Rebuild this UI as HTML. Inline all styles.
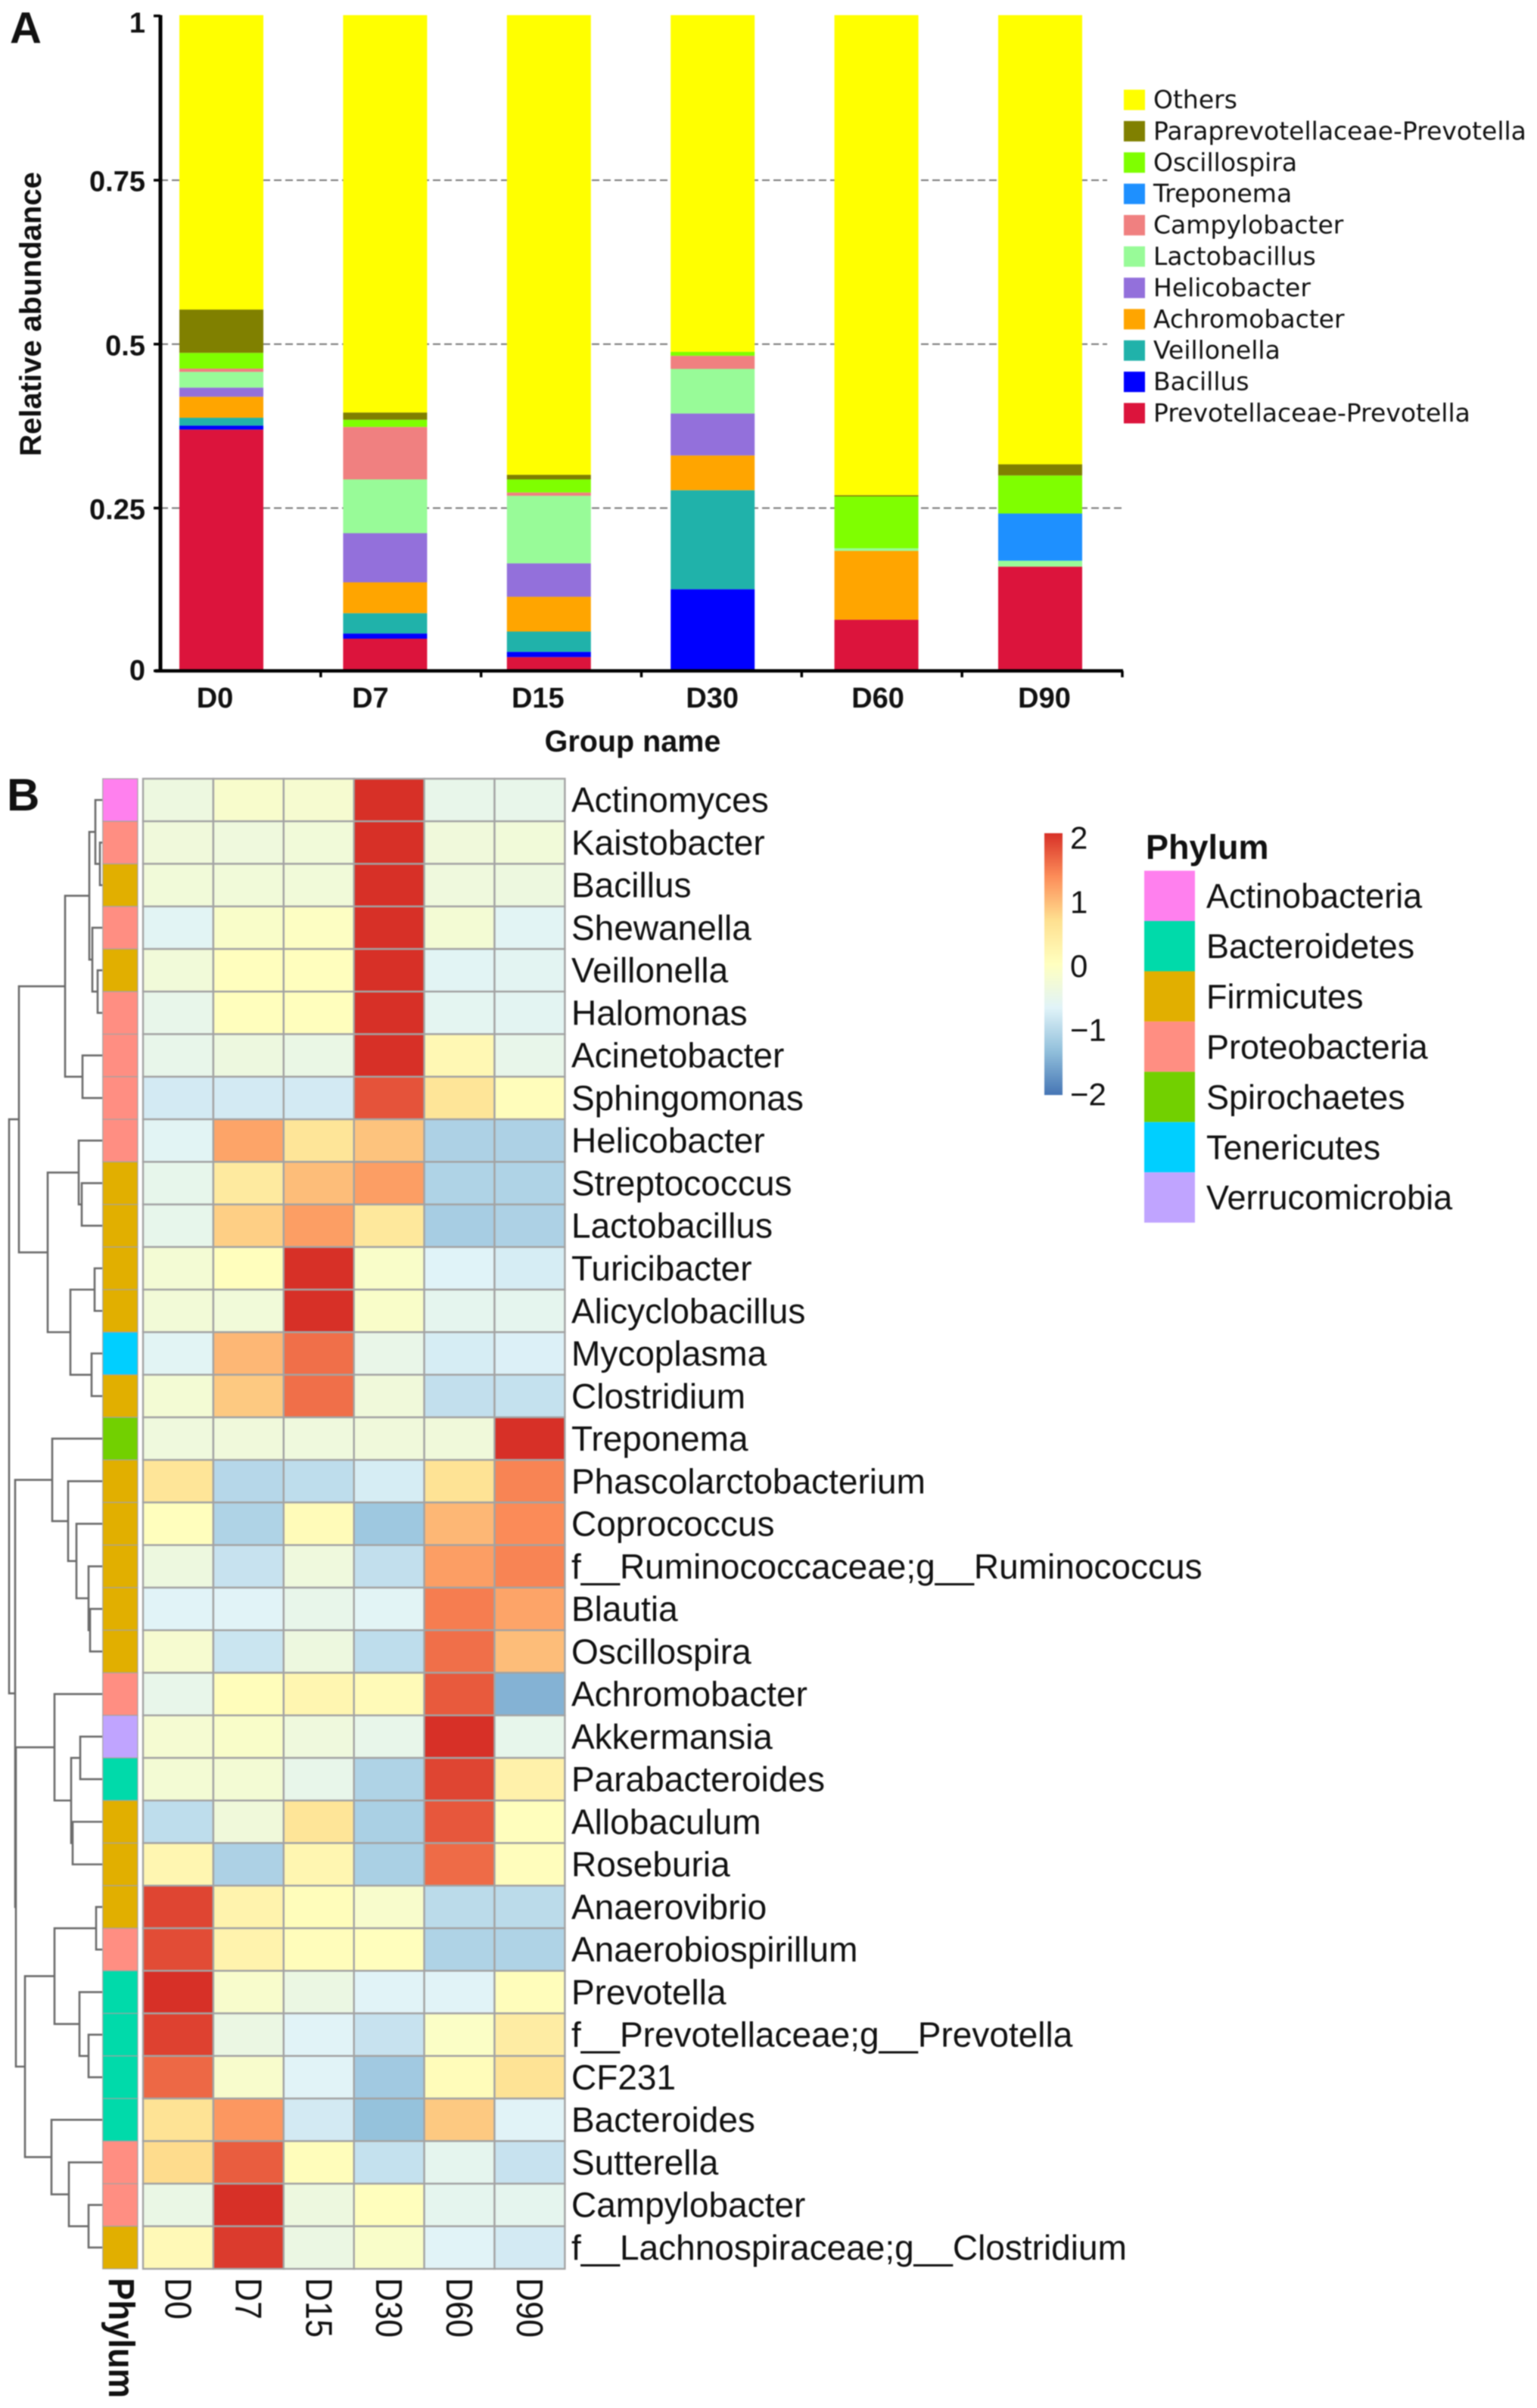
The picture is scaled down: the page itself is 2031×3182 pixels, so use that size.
<!DOCTYPE html>
<html lang="en">
<head>
<meta charset="utf-8">
<title>Relative abundance bar chart and phylum heatmap</title>
<style>
html,body{margin:0;padding:0;background:#fff}
svg{display:block;filter:blur(0.7px)}
text{font-family:"Liberation Sans",Arial,sans-serif;fill:#111}
.bold{font-weight:bold}
.dv{font-family:"DejaVu Sans",sans-serif;font-size:33px}
</style>
</head>
<body>
<svg id="fig" xmlns="http://www.w3.org/2000/svg" width="2031" height="3182" viewBox="0 0 2031 3182">
<defs>
<linearGradient id="ramp" x1="0" y1="0" x2="0" y2="1"></linearGradient>
</defs>
<rect width="2031" height="3182" fill="#fff"/>
<text class="bold" x="13" y="57" font-size="58">A</text>
<text class="bold" x="9" y="1071" font-size="60">B</text>
<g id="barGrid"></g>
<g id="bars"></g>
<g id="barAxes"></g>
<text class="bold" transform="translate(54,415) rotate(-90)" text-anchor="middle" font-size="40">Relative abundance</text>
<text class="bold" x="836" y="993" text-anchor="middle" font-size="39.5">Group name</text>
<g id="barLegend"></g>
<g id="dendro" fill="none" stroke="#6b6b6b" stroke-width="2.6"></g>
<g id="annot"></g>
<g id="heat"></g>
<g id="rowLabels"></g>
<g id="colLabels"></g>
<text class="bold" transform="translate(144,3010) rotate(90) scale(1,1.1)" font-size="44">Phylum</text>
<rect x="1380" y="1101" width="24" height="346" fill="url(#ramp)"/>
<g id="cbLabels"></g>
<text class="bold" x="1514" y="1135" font-size="45">Phylum</text>
<g id="phyLegend"></g>
</svg>
<script>
// ---------- Panel A data ----------
const groups = ["D0","D7","D15","D30","D60","D90"];
const yTicks = [0,0.25,0.5,0.75,1];
const gridTicks = [0.25,0.5,0.75];
const genusNames = ["Prevotellaceae-Prevotella","Bacillus","Veillonella","Achromobacter","Helicobacter","Lactobacillus","Campylobacter","Treponema","Oscillospira","Paraprevotellaceae-Prevotella","Others"];
const genusColors = ["#DC143C","#0000FF","#20B2AA","#FFA500","#9370DB","#98FB98","#F08080","#1E90FF","#7FFF00","#808000","#FFFF00"];
const prevotellaceaePrevotella = [0.368,0.049,0.021,0,0.078,0.159];
const bacillus = [0.006,0.008,0.008,0.1245,0,0];
const veillonella = [0.012,0.031,0.031,0.151,0,0];
const achromobacter = [0.032,0.047,0.053,0.053,0.105,0];
const helicobacter = [0.014,0.075,0.051,0.064,0,0];
const lactobacillus = [0.024,0.082,0.103,0.068,0.004,0.009];
const campylobacter = [0.005,0.080,0.005,0.020,0,0];
const treponema = [0,0,0,0,0,0.072];
const oscillospira = [0.024,0.011,0.020,0.006,0.079,0.058];
const paraprevotellaceaePrevotella = [0.066,0.011,0.007,0,0.002,0.017];
const others = [0.449,0.606,0.701,0.5135,0.732,0.685];
const genusSeries = [prevotellaceaePrevotella,bacillus,veillonella,achromobacter,helicobacter,lactobacillus,campylobacter,treponema,oscillospira,paraprevotellaceaePrevotella,others];

// ---------- Panel B data ----------
const columns = ["D0","D7","D15","D30","D60","D90"];
const taxa = ["Actinomyces","Kaistobacter","Bacillus","Shewanella","Veillonella","Halomonas","Acinetobacter","Sphingomonas","Helicobacter","Streptococcus","Lactobacillus","Turicibacter","Alicyclobacillus","Mycoplasma","Clostridium","Treponema","Phascolarctobacterium","Coprococcus","f__Ruminococcaceae;g__Ruminococcus","Blautia","Oscillospira","Achromobacter","Akkermansia","Parabacteroides","Allobaculum","Roseburia","Anaerovibrio","Anaerobiospirillum","Prevotella","f__Prevotellaceae;g__Prevotella","CF231","Bacteroides","Sutterella","Campylobacter","f__Lachnospiraceae;g__Clostridium"];
const taxaPhylum = ["Actinobacteria","Proteobacteria","Firmicutes","Proteobacteria","Firmicutes","Proteobacteria","Proteobacteria","Proteobacteria","Proteobacteria","Firmicutes","Firmicutes","Firmicutes","Firmicutes","Tenericutes","Firmicutes","Spirochaetes","Firmicutes","Firmicutes","Firmicutes","Firmicutes","Firmicutes","Proteobacteria","Verrucomicrobia","Bacteroidetes","Firmicutes","Firmicutes","Firmicutes","Proteobacteria","Bacteroidetes","Bacteroidetes","Bacteroidetes","Bacteroidetes","Proteobacteria","Proteobacteria","Firmicutes"];
const heatValues = [
[-0.39,-0.15,-0.2,2,-0.5,-0.5],
[-0.33,-0.35,-0.3,2,-0.33,-0.3],
[-0.3,-0.3,-0.3,2,-0.35,-0.38],
[-0.62,-0.12,-0.05,2,-0.25,-0.62],
[-0.3,0.02,0.02,2,-0.62,-0.6],
[-0.5,0.03,0.03,2,-0.58,-0.6],
[-0.5,-0.38,-0.45,2,0.15,-0.5],
[-0.78,-0.78,-0.78,1.75,0.55,0.05],
[-0.62,1.15,0.55,0.9,-1.1,-1.1],
[-0.52,0.45,0.95,1.2,-1.08,-1.08],
[-0.52,0.8,1.2,0.5,-1.15,-1.1],
[-0.25,0.03,2,-0.12,-0.67,-0.75],
[-0.28,-0.3,2,-0.12,-0.55,-0.55],
[-0.62,1,1.55,-0.48,-0.75,-0.7],
[-0.25,0.85,1.55,-0.32,-0.92,-0.9],
[-0.35,-0.33,-0.35,-0.33,-0.32,2],
[0.55,-1.02,-0.95,-0.75,0.6,1.4],
[0.03,-1.08,0.08,-1.22,1,1.35],
[-0.38,-0.88,-0.35,-0.92,1.2,1.4],
[-0.65,-0.65,-0.5,-0.63,1.45,1.15],
[-0.2,-0.85,-0.38,-0.95,1.55,0.95],
[-0.5,0.05,0.2,0.1,1.7,-1.45],
[-0.22,-0.12,-0.35,-0.5,2,-0.52],
[-0.25,-0.25,-0.5,-1.08,1.85,0.3],
[-0.95,-0.32,0.55,-1.12,1.72,0.03],
[0.2,-1.1,0.2,-1.12,1.58,0.04],
[1.85,0.25,0.05,-0.15,-0.98,-0.98],
[1.8,0.25,0.05,0.03,-1.08,-1.08],
[2,-0.15,-0.42,-0.65,-0.65,0.05],
[1.88,-0.42,-0.65,-0.88,-0.08,0.4],
[1.6,-0.15,-0.65,-1.2,0.07,0.6],
[0.6,1.25,-0.78,-1.3,0.85,-0.65],
[0.7,1.68,0.05,-0.9,-0.55,-0.88],
[-0.45,2,-0.38,0.03,-0.55,-0.55],
[0.12,1.92,-0.42,-0.12,-0.65,-0.78]
];
const phylumNames = ["Actinobacteria","Bacteroidetes","Firmicutes","Proteobacteria","Spirochaetes","Tenericutes","Verrucomicrobia"];
const phylumColors = ["#FF80EE","#00DAAA","#E1AF00","#FF8E82","#72D000","#00CFFF","#C0A4FF"];
const colorRamp = ["#4575B4","#91BFDB","#E0F3F8","#FFFFBF","#FEE090","#FC8D59","#D73027"];
const colorbarTicks = [2,1,0,-1,-2];
// Dendrogram: [merge height, child, child]; a number child is a row index.
const rowTree = [123,
  [110,
    [49,
      [17,[9,0,[3,1,2]],[13,3,[6,4,5]]],
      [26,6,7]],
    [72,
      [31,8,[27,9,10]],
      [42,[10,11,12],[14,13,14]]]],
  [115,
    [66,15,[45,16,[34,17,[18,18,[16,19,20]]]]],
    [114,
      [63,21,[41,[29,22,23],[39,24,25]]],
      [102,
        [63,[8,26,27],[30,28,[18,29,30]]],
        [67,31,[44,32,[18,33,34]]]]]]];

// ---------- helpers ----------
const NS = "http://www.w3.org/2000/svg";
function make(parent, tag, attrs, txt){
  const el = document.createElementNS(NS, tag);
  for (const k in attrs) el.setAttribute(k, attrs[k]);
  if (txt !== undefined) el.textContent = txt;
  parent.appendChild(el);
  return el;
}
const $ = id => document.getElementById(id);

// ---------- Panel A scales ----------
const barY0 = 886.5, barH = 866.5, barX0 = 237, barStep = 216.4, barW = 111;
const yScale = v => barY0 - barH * v;
const xScale = i => barX0 + barStep * i;
function labelCenter(i){
  const base = xScale(i) + barW / 2;
  if (i === 0) return base - 8.5;
  if (i === 1) return base - 19.5;
  if (i === 2) return base - 14.5;
  if (i === 3) return base - 0.5;
  if (i === 4) return base + 2;
  return base + 5.5;
}

gridTicks.forEach(v => {
  const gy = yScale(v) + 1.5;
  const line = make($("barGrid"), "line", {x1:212, x2: v === 0.25 ? 1483 : 1463, y1:gy, y2:gy, stroke:"#777", "stroke-width":2, "stroke-dasharray":"10 5"});
  
  
});

groups.forEach((g, i) => {
  let acc = 0;
  genusSeries.forEach((series, s) => {
    const v = series[i];
    if (v > 0) {
      const seg = make($("bars"), "rect", {x:xScale(i), width:barW, y:yScale(acc + v), height:barH * v, fill:genusColors[s]});
      
      
    }
    acc += v;
  });
  const lab = make($("barAxes"), "text", {x:labelCenter(i), y:935, "text-anchor":"middle", "font-size":38, "class":"bold"}, g);
  
  
  const tx = 212 + (1483 - 212) * (i + 1) / groups.length;
  const tick = make($("barAxes"), "line", {x1:tx, x2:tx, y1:barY0, y2:895, stroke:"#000", "stroke-width":3.5});
  
  
});

const yAxisLine = make($("barAxes"), "line", {x1:212, x2:212, y1:20, y2:barY0 + 2, stroke:"#000", "stroke-width":5});


const xAxisLine = make($("barAxes"), "line", {x1:205, x2:1484, y1:barY0, y2:barY0, stroke:"#000", "stroke-width":4.5});



yTicks.forEach(v => {
  const ty = Math.max(yScale(v) + (v > 0 && v < 1 ? 1.5 : 0), 21);
  const t = make($("barAxes"), "line", {x1:203, x2:212, y1:ty, y2:ty, stroke:"#000", "stroke-width":3.5});
  
  
  const dy = v === 1 ? 23 : v === 0 ? 12 : 16;
  const lab = make($("barAxes"), "text", {x:192, y:yScale(v) + dy, "text-anchor":"end", "font-size":38, "class":"bold"}, String(v));
  
  
});

// legend (top = last series)
genusNames.slice().reverse().forEach((name, i) => {
  const cy = 132 + 41.4 * i;
  const sw = make($("barLegend"), "rect", {x:1485, y:cy - 13.5, width:28, height:27, fill:genusColors[genusColors.length - 1 - i]});
  
  
  const tx = make($("barLegend"), "text", {x:1524, y:cy + 11, "class":"dv"}, name);
  
  
});

// ---------- Panel B scales ----------
const hx0 = 189, cellW = 92.9, hy0 = 1029, cellH = 56.26;
const colX = i => hx0 + cellW * i;
const rowY = i => hy0 + cellH * i;
function hexToRgb(h){ return [1,3,5].map(p => parseInt(h.substr(p,2),16)); }
function heatColor(v){
  const t = Math.max(0, Math.min(1, (v + 2) / 4)) * (colorRamp.length - 1);
  const a = Math.min(Math.floor(t), colorRamp.length - 2), f = t - a;
  const c0 = hexToRgb(colorRamp[a]), c1 = hexToRgb(colorRamp[a + 1]);
  return "rgb(" + c0.map((c, k) => Math.round(c + (c1[k] - c) * f)).join(",") + ")";
}

colorRamp.slice().reverse().forEach((c, i) => {
  const stop = make($("ramp"), "stop", {offset: i / (colorRamp.length - 1), "stop-color": c});
  
  
});

heatValues.forEach((row, r) => {
  row.forEach((v, c) => {
    const cell = make($("heat"), "rect", {x:colX(c), y:rowY(r), width:cellW, height:cellH, fill:heatColor(v), stroke:"#a3a3a3", "stroke-width":2.4});
    
    
  });
  const a = make($("annot"), "rect", {x:135.7, y:rowY(r), width:46.3, height:cellH, fill:phylumColors[phylumNames.indexOf(taxaPhylum[r])], stroke:"#a3a3a3", "stroke-width":1.2});
  
  
  const lab = make($("rowLabels"), "text", {x:755, y:rowY(r) + cellH / 2 + 16, "font-size":46}, taxa[r]);
  
  
});

columns.forEach((c, i) => {
  const lab = make($("colLabels"), "text", {transform:"translate(" + (colX(i) + cellW / 2 - 17) + ",3010) rotate(90) scale(1,1.15)", "font-size":43}, c);
  
  
});

// dendrogram
const leafX = 135;
const treeX = h => leafX - h;
function drawNode(node){
  if (typeof node === "number") return {x:leafX, y:rowY(node) + cellH / 2};
  const a = drawNode(node[1]), b = drawNode(node[2]);
  const x = treeX(node[0]);
  const p = make($("dendro"), "path", {d:"M" + a.x + " " + a.y + "H" + x + "V" + b.y + "H" + b.x});
  
  
  return {x:x, y:(a.y + b.y) / 2};
}
drawNode(rowTree);

// colorbar labels
colorbarTicks.forEach(v => {
  const y = 1276 - v * 84.7;
  const t = make($("cbLabels"), "text", {x:1414, y:y + 15, "font-size":42}, v < 0 ? "\u2212" + (-v) : String(v));
  
  
});

// phylum legend
phylumNames.forEach((n, i) => {
  const y = 1150.6 + 66.43 * i;
  const sw = make($("phyLegend"), "rect", {x:1512, y:y, width:67, height:66.43, fill:phylumColors[i]});
  
  
  const t = make($("phyLegend"), "text", {x:1594, y:y + 33 + 16, "font-size":45}, n);
  
  
});
</script>
</body>
</html>
